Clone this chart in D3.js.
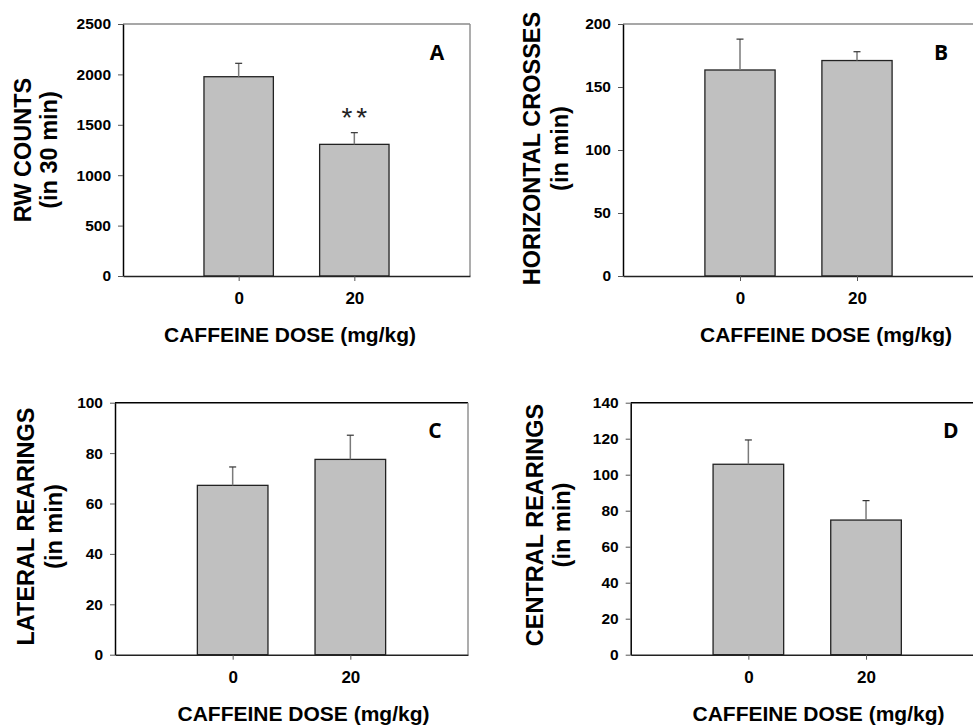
<!DOCTYPE html>
<html>
<head>
<meta charset="utf-8">
<script src="https://cdn.jsdelivr.net/npm/d3@7"></script>
<style>
  body { margin: 0; background: #fff; }
  svg { display: block; }
</style>
</head>
<body>
<svg id="chart"></svg>
<script>
// chart size = browser window
var svgWidth = 973,
    svgHeight = 727;

// data
var doses = ["0", "20"];
var panelLetters = ["A", "B", "C", "D"];
var yTitles = [
    ["RW COUNTS", "(in 30 min)"],
    ["HORIZONTAL CROSSES", "(in min)"],
    ["LATERAL REARINGS", "(in min)"],
    ["CENTRAL REARINGS", "(in min)"]
];
var xTitle = "CAFFEINE DOSE (mg/kg)";
var meansA = [1977, 1306],  semA = [133, 116];
var meansB = [163.5, 171],  semB = [24.5, 7];
var meansC = [67.2, 77.5],  semC = [7.3, 9.6];
var meansD = [105.8, 74.8], semD = [13.5, 10.8];
var yMaxes = [2500, 200, 100, 140];
var yTicksA = [0, 500, 1000, 1500, 2000, 2500];
var yTicksB = [0, 50, 100, 150, 200];
var yTicksC = [0, 20, 40, 60, 80, 100];
var yTicksD = [0, 20, 40, 60, 80, 100, 120, 140];
var stars = ["", "**"]; // significance, panel A only

var means = [meansA, meansB, meansC, meansD],
    sems = [semA, semB, semC, semD],
    yTicks = [yTicksA, yTicksB, yTicksC, yTicksD];

// where every panel sits (plot area + label offsets)
var layout = [
    { left: 123,   top: 24,    w: 347, h: 252, topColor: "#8a8a8a", lab1: -92, lab2: -66, labY: 150,   titleX: 290   },
    { left: 623,   top: 24,    w: 351, h: 252, topColor: "#8a8a8a", lab1: -83, lab2: -55, labY: 148.5, titleX: 826   },
    { left: 115,   top: 402.7, w: 353, h: 252, topColor: "#000",    lab1: -81, lab2: -53, labY: 526.5, titleX: 303.5 },
    { left: 630.7, top: 402.7, w: 353, h: 252, topColor: "#000",    lab1: -88, lab2: -61, labY: 525,   titleX: 818.5 }
];

var font = "'Liberation Sans', Arial, sans-serif";

var svg = d3.select("#chart")
    .attr("width", svgWidth)
    .attr("height", svgHeight);

function drawPanel(i) {
    var L = layout[i];
    var g = svg.append("g")
        .attr("transform", "translate(" + L.left + "," + L.top + ")");

    var x = d3.scalePoint()
        .domain(doses)
        .range([0, L.w])
        .padding(1);
    var y = d3.scaleLinear()
        .domain([0, yMaxes[i]])
        .range([L.h, 0]);
    var barW = L.w * 0.2;

    // top + right frame
    g.append("line")
        .attr("x1", 0).attr("x2", L.w)
        .attr("y1", 0).attr("y2", 0)
        .attr("stroke", L.topColor)
        .attr("stroke-width", 1.4);
    g.append("line")
        .attr("x1", L.w).attr("x2", L.w)
        .attr("y1", 0).attr("y2", L.h)
        .attr("stroke", "#8a8a8a")
        .attr("stroke-width", 1.4);

    var data = doses.map(function (d, k) {
        return { dose: d, mean: means[i][k], sem: sems[i][k] };
    });

    // bars
    g.selectAll(".bar")
        .data(data)
        .enter().append("rect")
        .attr("class", "bar")
        .attr("x", d => x(d.dose) - barW / 2)
        .attr("y", d => y(d.mean))
        .attr("width", barW)
        .attr("height", d => L.h - y(d.mean))
        .attr("fill", "#c0c0c0")
        .attr("stroke", "#222")
        .attr("stroke-width", 1.3);

    // error bars (upper half only)
    g.selectAll(".err")
        .data(data)
        .enter().append("line")
        .attr("x1", d => x(d.dose))
        .attr("x2", d => x(d.dose))
        .attr("y1", d => y(d.mean))
        .attr("y2", d => y(d.mean + d.sem))
        .attr("stroke", "#7a7a7a")
        .attr("stroke-width", 1.5);
    g.selectAll(".cap")
        .data(data)
        .enter().append("line")
        .attr("x1", d => x(d.dose) - 3.5)
        .attr("x2", d => x(d.dose) + 3.5)
        .attr("y1", d => y(d.mean + d.sem))
        .attr("y2", d => y(d.mean + d.sem))
        .attr("stroke", "#333")
        .attr("stroke-width", 1.2);

    // axes
    var yAxis = g.append("g")
        .call(d3.axisLeft(y).tickValues(yTicks[i]).tickFormat(d3.format("d"))
            .tickSize(5).tickPadding(7).tickSizeOuter(0));
    yAxis.select(".domain").attr("stroke", "#000").attr("stroke-width", 1.5);
    yAxis.selectAll(".tick line").attr("stroke", "#555");
    yAxis.selectAll(".tick text")
        .attr("font-family", font)
        .attr("font-weight", "bold")
        .attr("font-size", "15.5px")
        .attr("fill", "#000");

    var xAxis = g.append("g")
        .attr("transform", "translate(0," + L.h + ")")
        .call(d3.axisBottom(x).tickSize(5).tickPadding(11).tickSizeOuter(0));
    xAxis.select(".domain").attr("stroke", "#222").attr("stroke-width", 1.5);
    xAxis.selectAll(".tick line").attr("stroke", "#555");
    xAxis.selectAll(".tick text")
        .attr("font-family", font)
        .attr("font-weight", "bold")
        .attr("font-size", "17px")
        .attr("fill", "#000");

    // significance stars
    if (i === 0) {
        g.selectAll(".star")
            .data(data)
            .enter().append("text")
            .attr("x", d => x(d.dose) + 2)
            .attr("y", d => y(d.mean + d.sem) - 6)
            .attr("text-anchor", "middle")
            .attr("font-family", font)
            .attr("font-size", "28px")
            .attr("letter-spacing", "4px")
            .attr("fill", "#222")
            .text((d, k) => stars[k]);
    }

    // panel letter
    g.append("text")
        .attr("x", L.w - 33)
        .attr("y", 35.5)
        .attr("text-anchor", "middle")
        .attr("font-family", "'Open Sans', sans-serif")
        .attr("font-weight", "bold")
        .attr("font-size", "21px")
        .attr("fill", "#000")
        .text(panelLetters[i]);

    // y title (two lines)
    var cy = L.labY - L.top;
    [L.lab1, L.lab2].forEach(function (off, k) {
        g.append("text")
            .attr("transform", "translate(" + off + "," + cy + ") rotate(-90)")
            .attr("text-anchor", "middle")
            .attr("font-family", font)
            .attr("font-weight", "bold")
            .attr("font-size", "23.5px")
            .attr("fill", "#000")
            .text(yTitles[i][k]);
    });

    // x title
    g.append("text")
        .attr("x", L.titleX - L.left)
        .attr("y", L.h + 66)
        .attr("text-anchor", "middle")
        .attr("font-family", font)
        .attr("font-weight", "bold")
        .attr("font-size", "21px")
        .attr("fill", "#000")
        .text(xTitle);
}

for (var p = 0; p < 4; p++) {
    drawPanel(p);
}
</script>
</body>
</html>
